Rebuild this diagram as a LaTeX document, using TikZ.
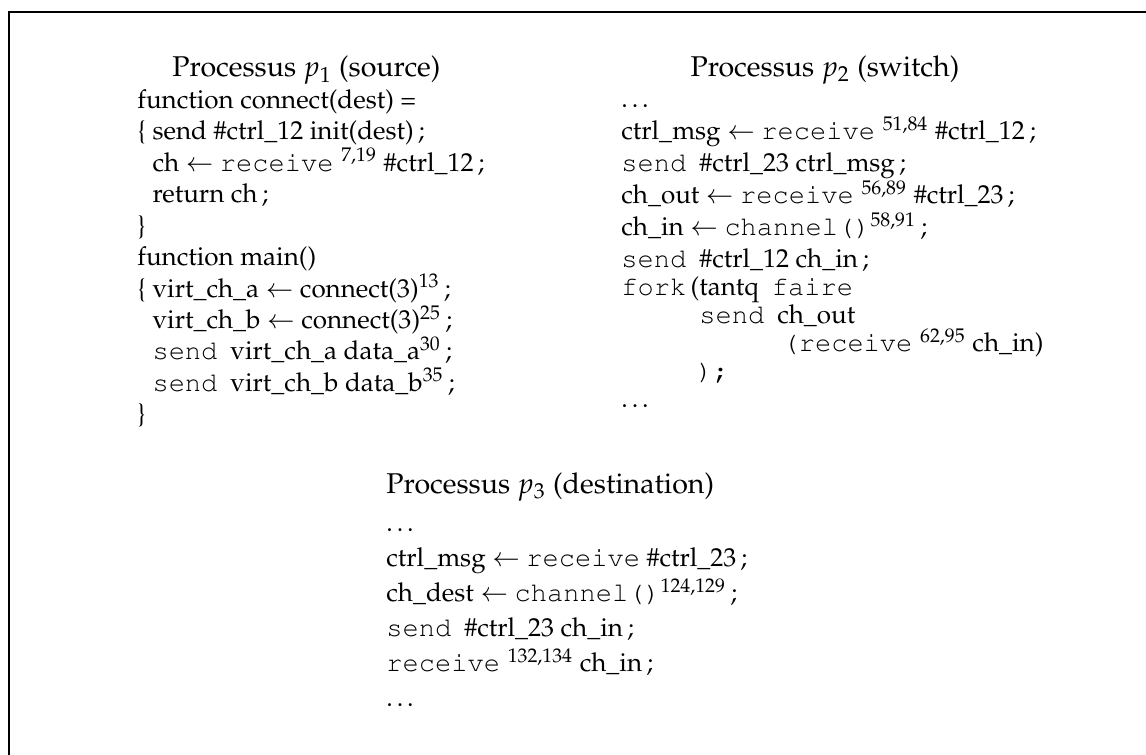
\documentclass[tikz,border=0pt]{standalone}
\usepackage[T1]{fontenc}
\usepackage{mathpazo}
\usepackage{courier}

\newcommand{\kw}[1]{{\fontsize{10.4}{\baselineskip}\selectfont\ttfamily #1}}

\begin{document}
\begin{tikzpicture}[
    titre/.style={font=\fontsize{11}{13}\selectfont, inner sep=0pt, anchor=base},
    code/.style={align=left, inner sep=0pt, anchor=base west},
    cadre/.style={line width=0.8pt, draw=black}
]

\useasboundingbox (0,0) rectangle (15.49,-10.20);

% --- Cadre ---
\draw[cadre] (0.122,-11) -- (0.122,-0.162) -- (16,-0.162);

% --- Processus p1 (base = derniere ligne) ---
\node[titre] (proc1) at (4.142,-1.04) {Processus $p_1$ (source)};
\node[code, font=\fontsize{10}{12.1}\selectfont] (code1) at (1.85,-5.716)
    {function connect(dest) =\\
     \{ send \#ctrl\_12 init(dest)\,;\\
     \phantom{\{} ch $\leftarrow$ \kw{receive}\hspace{3pt}$^{7,19}$ \#ctrl\_12\,;\\
     \phantom{\{} return ch\,;\\
     \}\\
     function main()\\
     \{ virt\_ch\_a $\leftarrow$ connect(3)$^{13}$\,;\\
     \phantom{\{} virt\_ch\_b $\leftarrow$ connect(3)$^{25}$\,;\\
     \phantom{\{} \kw{send}\enspace virt\_ch\_a data\_a$^{30}$\,;\\
     \phantom{\{} \kw{send}\enspace virt\_ch\_b data\_b$^{35}$\,;\\
     \}};

% --- Processus p2 ---
\node[titre] (proc2) at (11.15,-1.04) {Processus $p_2$ (switch)};
\node[code, font=\fontsize{10}{12.3}\selectfont] (code2) at (8.392,-5.514)
    {\ldots\\
     ctrl\_msg $\leftarrow$ \kw{receive}\hspace{3pt}$^{51,84}$ \#ctrl\_12\,;\\
     \kw{send}\enspace\#ctrl\_23 ctrl\_msg\,;\\
     ch\_out $\leftarrow$ \kw{receive}\hspace{3pt}$^{56,89}$ \#ctrl\_23\,;\\
     ch\_in $\leftarrow$ \kw{channel()}$^{58,91}$\,;\\
     \kw{send}\enspace\#ctrl\_12 ch\_in\,;\\[-1.5pt]
     \kw{fork}\,(tantq\enspace\kw{faire}\\[-1.5pt]
     \hspace*{30pt}\kw{send}\enspace ch\_out\\[-1.5pt]
     \hspace*{62pt}\kw{(receive}\hspace{3pt}$^{62,95}$ ch\_in)\\[-1.5pt]
     \hspace*{29pt}\kw{);}\\[-1.5pt]
     \ldots};

% --- Processus p3 ---
\node[titre, anchor=base west] (proc3) at (5.216,-6.676) {Processus $p_3$ (destination)};
\node[code, font=\fontsize{10}{13.46}\selectfont] (code3) at (5.216,-9.554)
    {\ldots\\
     ctrl\_msg $\leftarrow$ \kw{receive} \#ctrl\_23\,;\\
     ch\_dest $\leftarrow$ \kw{channel()}$^{124,129}$\,;\\
     \kw{send}\enspace\#ctrl\_23 ch\_in\,;\\
     \kw{receive}\hspace{3pt}$^{132,134}$ ch\_in\,;\\
     \ldots};

\end{tikzpicture}
\end{document}
